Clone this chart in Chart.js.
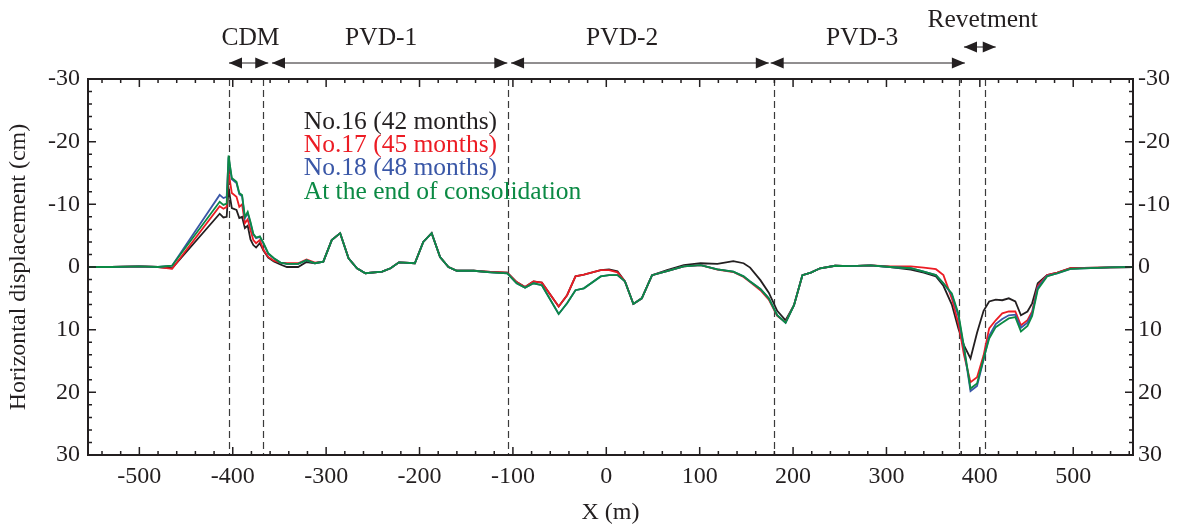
<!DOCTYPE html>
<html><head><meta charset="utf-8">
<script src="https://cdn.jsdelivr.net/npm/chart.js@4.4.1/dist/chart.umd.min.js"></script>
<style>html,body{margin:0;padding:0;background:#fff;} #wrap{width:1181px;height:529px;}</style>
</head><body><div id="wrap"><canvas id="c" width="1181" height="529"></canvas></div>
<script>
const xPositions = [-555,-530,-500,-480,-465,-414,-410,-406.5,-404.5,-401,-396,-393,-390,-387,-384,-381,-378,-375,-371,-367,-362,-356,-349,-342,-330,-321,-312,-303,-294,-285,-276,-267,-258,-240,-231,-222,-205,-196,-187,-178,-169,-160,-142,-124,-106,-96,-87,-78,-69,-51,-42,-33,-24,-6,3,12,20,29,38,49,65,83,101,119,136,147,154,165,174,183,192,201,210,219,229,245,261,283,304,326,340,353,361,370,377,383,390,397,404,410,417,424,431,438,444,451,456,462,472,483,497,540,564];

const no16 = [0,0,-0.1,0,0.2,-8.5,-7.9,-8.0,-12.6,-9.4,-9.1,-7.8,-8.0,-6.2,-6.6,-4.4,-3.5,-3.1,-3.8,-2.6,-1.5,-0.9,-0.4,0,0,-0.8,-0.6,-0.85,-4.3,-5.4,-1.4,0.2,1.0,0.75,0.2,-0.75,-0.6,-4.0,-5.4,-1.6,0,0.6,0.6,0.8,0.9,2.4,3.2,2.3,2.5,6.3,4.5,1.5,1.2,0.5,0.4,0.7,2.3,5.9,5.0,1.3,0.5,-0.3,-0.6,-0.5,-0.95,-0.6,0.1,2.1,4.1,7.0,8.5,6.1,1.3,0.9,0.2,-0.2,-0.15,-0.25,0,0.4,0.9,1.5,3.0,6.0,9.8,12.5,14.6,10.5,7.0,5.5,5.2,5.3,5.0,5.5,7.7,7.1,5.8,2.6,1.3,0.9,0.2,0.05,0];

const no17 = [0,0,-0.1,0,0.3,-9.7,-9.3,-9.6,-15.2,-11.8,-11.2,-9.6,-10.0,-7.0,-7.6,-5.9,-4.3,-3.8,-4.3,-2.7,-1.6,-1.0,-0.7,-0.6,-0.6,-1.2,-0.7,-0.85,-4.3,-5.4,-1.4,0.2,1.0,0.75,0.2,-0.75,-0.6,-4.0,-5.4,-1.6,0,0.6,0.6,0.8,0.9,2.4,3.2,2.3,2.5,6.3,4.5,1.5,1.2,0.5,0.5,0.85,2.3,5.9,5.0,1.3,0.65,-0.1,-0.3,0.4,0.8,1.6,2.4,3.7,5.2,7.8,8.8,6.1,1.3,0.9,0.2,-0.2,-0.15,-0.25,-0.1,-0.1,0.1,0.35,1.3,5.0,9.0,14.0,18.4,17.6,14.1,9.8,8.5,7.4,7.1,7.1,9.3,8.5,7.1,3.0,1.3,0.9,0.2,0.05,0];

const no18 = [0,0,-0.1,0,-0.2,-11.5,-11.0,-11.2,-17.5,-14.0,-13.4,-11.6,-11.3,-7.8,-8.6,-7.0,-5.2,-4.6,-4.8,-3.7,-2.1,-1.4,-0.7,-0.5,-0.5,-1.1,-0.6,-0.85,-4.3,-5.4,-1.4,0.2,1.0,0.75,0.2,-0.75,-0.6,-4.0,-5.4,-1.6,0,0.6,0.6,0.85,1.0,2.6,3.3,2.6,2.9,7.5,5.8,3.7,3.4,1.5,1.3,1.3,2.3,5.9,5.0,1.3,0.65,-0.1,-0.3,0.37,0.75,1.5,2.3,3.5,5.0,7.7,8.9,6.1,1.3,0.9,0.2,-0.2,-0.15,-0.25,0,0.2,0.75,1.3,2.6,4.4,7.8,13.0,19.8,19.0,14.8,11.0,9.1,8.3,7.7,7.6,9.7,8.9,7.4,3.3,1.4,1.0,0.3,0.05,0];

const endOfConsolidation = [0,0,-0.1,0,-0.2,-10.4,-9.9,-10.1,-17.8,-14.2,-13.6,-11.8,-11.5,-8.0,-8.8,-7.2,-5.3,-4.7,-4.9,-3.8,-2.2,-1.4,-0.7,-0.5,-0.5,-1.1,-0.6,-0.85,-4.3,-5.4,-1.4,0.2,1.0,0.75,0.2,-0.75,-0.6,-4.0,-5.4,-1.6,0,0.6,0.6,0.85,1.0,2.6,3.3,2.6,2.9,7.5,5.8,3.7,3.4,1.5,1.3,1.3,2.3,5.9,5.0,1.3,0.65,-0.1,-0.3,0.37,0.75,1.5,2.3,3.5,5.0,7.7,8.9,6.1,1.3,0.9,0.2,-0.2,-0.15,-0.25,0,0.2,0.75,1.3,2.6,4.2,7.4,12.7,19.4,18.6,14.6,11.4,9.6,8.9,8.2,8.0,10.3,9.4,7.8,3.6,1.5,1.0,0.3,0.05,0];

const seriesNames = ['No.16 (42 months)','No.17 (45 months)','No.18 (48 months)','At the end of consolidation'];
const xTickValues = [-500,-400,-300,-200,-100,0,100,200,300,400,500];
const yTickValues = [-30,-20,-10,0,10,20,30];
const boundaryX = [-404,-368,-105,180,378,405];
const zoneNames = ['CDM','PVD-1','PVD-2','PVD-3','Revetment'];
const zoneLabelX = [-381,-241,17,274,403];
const zoneArrowFrom = [-404,-358,-102,176,383];
const zoneArrowTo = [-362,-106,174,384,417];

const INK = '#231f20';
const COLORS = ['#231f20','#ec1c24','#3a57a7','#0b8a44'];
const FONT = 'Liberation Serif';

function pts(ys){ return xPositions.map((x,i)=>({x:x,y:ys[i]})); }

const decor = {
  id:'decor',
  beforeDatasetsDraw(chart){
    const {ctx, chartArea:a, scales:{x}} = chart;
    ctx.save();
    ctx.strokeStyle = '#3a3a3a'; ctx.lineWidth = 1.2; ctx.setLineDash([7,4]);
    boundaryX.forEach(v=>{
      const px = Math.round(x.getPixelForValue(v))+0.5;
      ctx.beginPath(); ctx.moveTo(px,a.top); ctx.lineTo(px,a.bottom); ctx.stroke();
    });
    ctx.restore();
  },
  afterDraw(chart){
    const {ctx, chartArea:a, scales:{x,y}} = chart;
    ctx.save();
    ctx.strokeStyle = INK; ctx.lineWidth = 2;
    ctx.strokeRect(a.left, a.top, a.right-a.left, a.bottom-a.top);
    ctx.lineWidth = 1.5;
    ctx.beginPath();
    for(let v=-540; v<=560; v+=20){
      const px = x.getPixelForValue(v);
      const len = (v%100===0)?8:4;
      ctx.moveTo(px,a.bottom); ctx.lineTo(px,a.bottom-len);
      ctx.moveTo(px,a.top); ctx.lineTo(px,a.top+len);
    }
    for(let v=-28; v<=28; v+=2){
      const py = y.getPixelForValue(v);
      const len = (v%10===0)?8:4;
      ctx.moveTo(a.left,py); ctx.lineTo(a.left+len,py);
      ctx.moveTo(a.right,py); ctx.lineTo(a.right-len,py);
    }
    ctx.stroke();
    ctx.fillStyle = INK; ctx.strokeStyle = INK; ctx.lineWidth = 1;
    zoneArrowFrom.forEach((f,i)=>{
      const x1 = x.getPixelForValue(f), x2 = x.getPixelForValue(zoneArrowTo[i]);
      const ay = (i===4)?47:63;
      ctx.beginPath(); ctx.moveTo(x1,ay); ctx.lineTo(x2,ay); ctx.stroke();
      ctx.beginPath(); ctx.moveTo(x1,ay); ctx.lineTo(x1+13,ay-5.5); ctx.lineTo(x1+13,ay+5.5); ctx.closePath(); ctx.fill();
      ctx.beginPath(); ctx.moveTo(x2,ay); ctx.lineTo(x2-13,ay-5.5); ctx.lineTo(x2-13,ay+5.5); ctx.closePath(); ctx.fill();
    });
    ctx.font = '25.5px "'+FONT+'"'; ctx.textAlign='center'; ctx.textBaseline='middle'; ctx.fillStyle = INK;
    zoneNames.forEach((n,i)=>{
      ctx.fillText(n, x.getPixelForValue(zoneLabelX[i]), (i===4)?20:38);
    });
    ctx.font = '25.5px "'+FONT+'"'; ctx.textAlign='left';
    const ly = [122,145,168.5,192];
    seriesNames.forEach((n,i)=>{
      ctx.fillStyle = COLORS[i];
      ctx.fillText(n, x.getPixelForValue(-324), ly[i]);
    });
    ctx.restore();
  }
};

const tickFont = {family:FONT, size:24};
new Chart(document.getElementById('c'), {
  type:'line',
  data:{
    datasets:[
      {label:seriesNames[3], data:pts(endOfConsolidation), borderColor:COLORS[3], yAxisID:'y'},
      {label:seriesNames[2], data:pts(no18), borderColor:COLORS[2], yAxisID:'y'},
      {label:seriesNames[1], data:pts(no17), borderColor:COLORS[1], yAxisID:'y'},
      {label:seriesNames[0], data:pts(no16), borderColor:COLORS[0], yAxisID:'y'}
    ]
  },
  options:{
    responsive:false, animation:false,
    elements:{line:{borderWidth:1.8, tension:0, fill:false}, point:{radius:0}},
    layout:{padding:{top:79,left:0,right:0,bottom:0}},
    plugins:{legend:{display:false}, tooltip:{enabled:false}},
    scales:{
      x:{type:'linear', position:'bottom', min:-555, max:564,
        afterBuildTicks:s=>{ s.ticks = xTickValues.map(v=>({value:v})); },
        afterFit:s=>{ s.height = 74; },
        grid:{display:false, drawTicks:false}, border:{display:false},
        ticks:{padding:7, font:tickFont, color:INK, maxRotation:0, autoSkip:false, callback:v=>String(v)},
        title:{display:true, text:'X (m)', font:tickFont, color:INK, padding:{top:0,bottom:2}}
      },
      y:{type:'linear', position:'left', min:-30, max:30, reverse:true,
        afterBuildTicks:s=>{ s.ticks = yTickValues.map(v=>({value:v})); },
        afterFit:s=>{ s.width = 88; },
        grid:{display:false, drawTicks:false}, border:{display:false},
        ticks:{padding:8, font:tickFont, color:INK, autoSkip:false, callback:v=>String(v)},
        title:{display:true, text:'Horizontal displacement (cm)', font:tickFont, color:INK, padding:{top:4,bottom:0}}
      },
      y2:{type:'linear', position:'right', min:-30, max:30, reverse:true,
        afterBuildTicks:s=>{ s.ticks = yTickValues.map(v=>({value:v})); },
        afterFit:s=>{ s.width = 48; },
        grid:{display:false, drawTicks:false}, border:{display:false},
        ticks:{padding:5, font:tickFont, color:INK, autoSkip:false, callback:v=>String(v)}
      }
    }
  },
  plugins:[decor]
});
</script>
</body></html>
